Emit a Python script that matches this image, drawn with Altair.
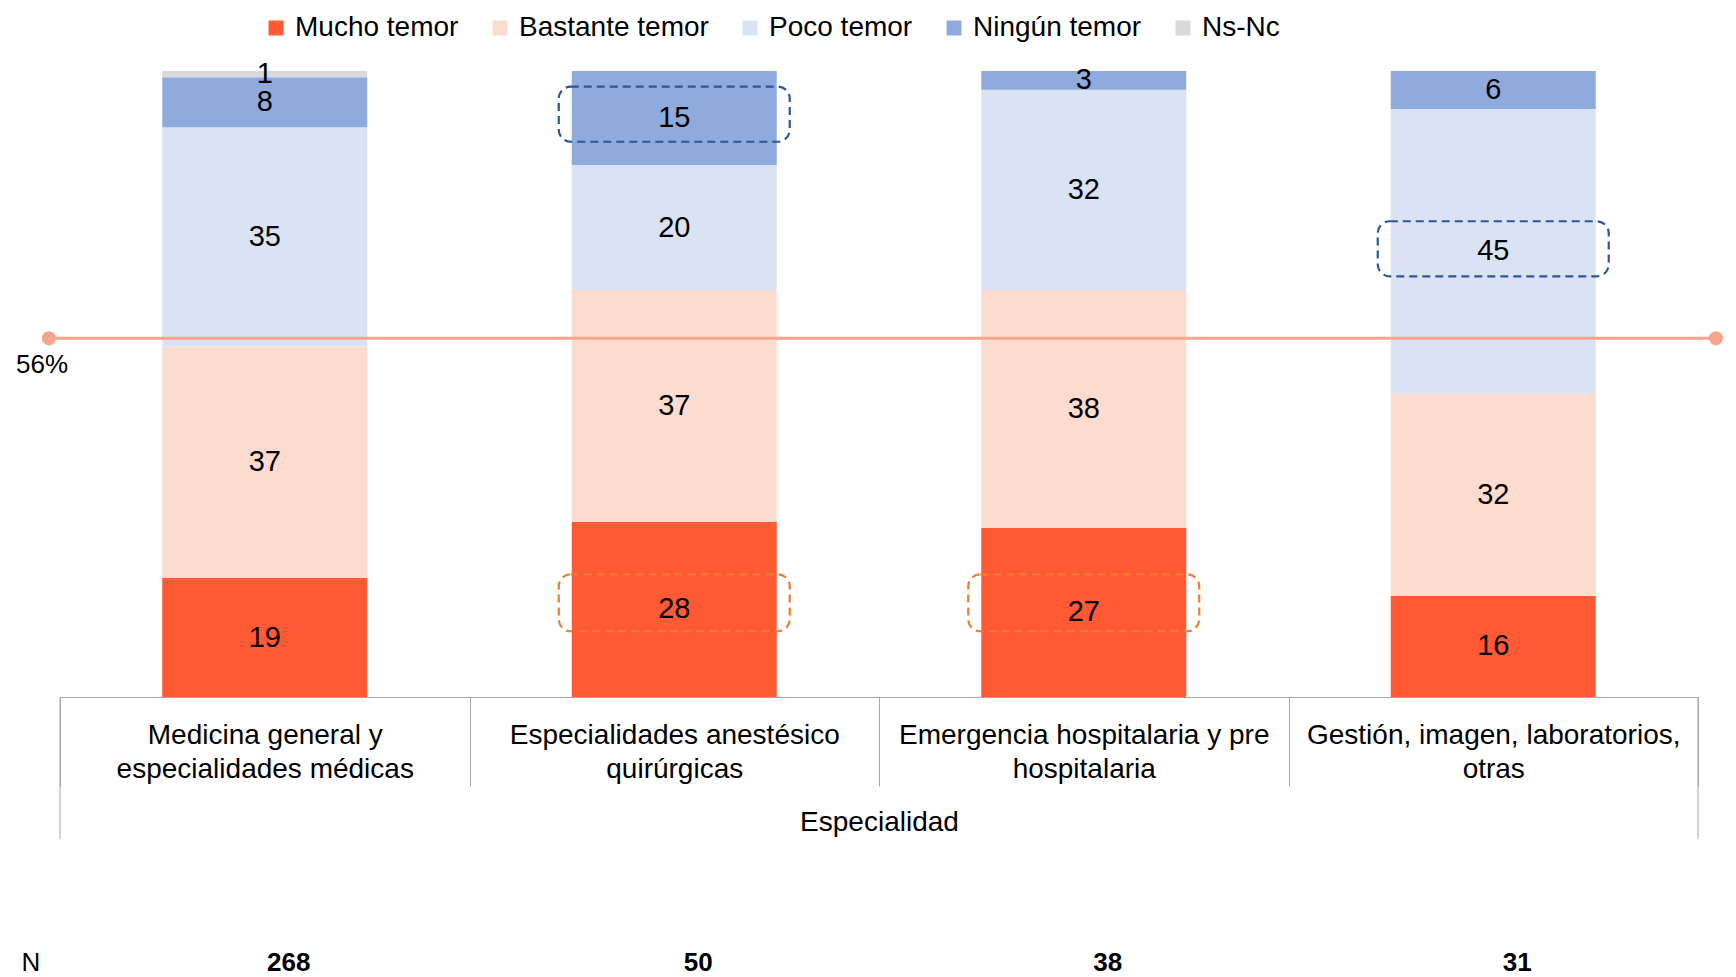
import altair as alt
import pandas as pd

categories = [
    "Medicina general y especialidades médicas",
    "Especialidades anestésico quirúrgicas",
    "Emergencia hospitalaria y pre hospitalaria",
    "Gestión, imagen, laboratorios, otras",
]
label_lines = [
    ["Medicina general y", "especialidades médicas"],
    ["Especialidades anestésico", "quirúrgicas"],
    ["Emergencia hospitalaria y pre", "hospitalaria"],
    ["Gestión, imagen, laboratorios,", "otras"],
]
levels = ["Mucho temor", "Bastante temor", "Poco temor", "Ningún temor", "Ns-Nc"]
level_colors = ["#FF5A33", "#FCDCCF", "#DAE3F3", "#8FAADC", "#D9D9D9"]

mucho = [19, 28, 27, 16]
bastante = [37, 37, 38, 32]
poco = [35, 20, 32, 45]
ningun = [8, 15, 3, 6]
nsnc = [1, 0, 0, 0]
n_values = [268, 50, 38, 31]

ref_value = [0.573]
ref_label = ["56%"]

hl_cat = [categories[1], categories[3], categories[1], categories[2]]
hl_low = [0.887, 0.672, 0.105, 0.105]
hl_high = [0.975, 0.760, 0.196, 0.196]
hl_color = ["#2F5597", "#2F5597", "#ED7D31", "#ED7D31"]

FONT = "Liberation Sans"
W, H = 1638, 626

rows = []
for series, lvl in zip([mucho, bastante, poco, ningun, nsnc], levels):
    for cat, v in zip(categories, series):
        if v > 0:
            rows.append({"Especialidad": cat, "Nivel": lvl, "Valor": v, "orden": levels.index(lvl)})
df = pd.DataFrame(rows)

hl_df = pd.DataFrame({"Especialidad": hl_cat, "lo": hl_low, "hi": hl_high, "col": hl_color})
ref_df = pd.DataFrame({"ref": ref_value, "lab": ref_label})
n_df = pd.DataFrame({"Especialidad": categories, "N": [str(v) for v in n_values]})

label_expr = " : ".join(
    f"datum.value == '{c}' ? ['{l[0]}', '{l[1]}']" for c, l in zip(categories, label_lines)
) + " : datum.label"

xenc = alt.X(
    "Especialidad:N",
    sort=categories,
    scale=alt.Scale(domain=categories, paddingInner=0, paddingOuter=0),
    axis=alt.Axis(
        title="Especialidad",
        titleFontSize=28,
        titleFontWeight="normal",
        titleColor="black",
        titleY=125,
        titleBaseline="middle",
        labelAngle=0,
        labelFontSize=28,
        labelLineHeight=34,
        labelLimit=600,
        labelColor="black",
        labelPadding=-65,
        labelExpr=label_expr,
        tickBand="extent",
        tickSize=89,
        tickColor="#A6A6A6",
        domainColor="#A6A6A6",
        grid=False,
    ),
)
yscale = alt.Scale(domain=[0, 1], nice=False, zero=True)

base = alt.Chart(df).transform_stack(
    stack="Valor",
    groupby=["Especialidad"],
    as_=["y0", "y1"],
    offset="normalize",
    sort=[alt.SortField("orden", order="ascending")],
).transform_calculate(mid="(datum.y0 + datum.y1) / 2")

bars = base.mark_bar(width=205).encode(
    x=xenc,
    y=alt.Y("y0:Q", scale=yscale, axis=None),
    y2="y1:Q",
    color=alt.Color(
        "Nivel:N",
        scale=alt.Scale(domain=levels, range=level_colors),
        legend=alt.Legend(
            orient="none",
            direction="horizontal",
            legendX=202,
            legendY=-57,
            title=None,
            symbolType="square",
            symbolSize=225,
            symbolStrokeWidth=0,
            labelFontSize=28,
            labelColor="black",
            labelLimit=600,
            labelOffset=5,
            columnPadding=27,
        ),
    ),
)

texts = base.mark_text(fontSize=29, color="black", baseline="middle").encode(
    x=xenc,
    y=alt.Y("mid:Q", scale=yscale, axis=None),
    text="Valor:Q",
)

highlights = alt.Chart(hl_df).mark_bar(
    filled=False, width=231, cornerRadius=12, strokeDash=[8, 5], strokeWidth=2.2
).encode(
    x=xenc,
    y=alt.Y("lo:Q", scale=yscale, axis=None),
    y2="hi:Q",
    color=alt.Color("col:N", scale=None),
)

ref_rule = alt.Chart(ref_df).mark_rule(color="#F8A58E", strokeWidth=3).encode(
    x=alt.value(-11), x2=alt.value(W + 18), y=alt.Y("ref:Q", scale=yscale, axis=None)
)
dot_l = alt.Chart(ref_df).mark_circle(color="#F8A58E", size=200, opacity=1).encode(
    x=alt.value(-11), y=alt.Y("ref:Q", scale=yscale, axis=None)
)
dot_r = alt.Chart(ref_df).mark_circle(color="#F8A58E", size=200, opacity=1).encode(
    x=alt.value(W + 18), y=alt.Y("ref:Q", scale=yscale, axis=None)
)
ref_text = alt.Chart(ref_df).mark_text(fontSize=26, color="black", dy=27).encode(
    x=alt.value(-18), y=alt.Y("ref:Q", scale=yscale, axis=None), text="lab:N"
)

outer_l = alt.Chart(ref_df).mark_rule(color="#A6A6A6", strokeWidth=1).encode(
    x=alt.value(0), y=alt.value(H), y2=alt.value(H + 142)
)
outer_r = alt.Chart(ref_df).mark_rule(color="#A6A6A6", strokeWidth=1).encode(
    x=alt.value(W), y=alt.value(H), y2=alt.value(H + 142)
)

n_label = alt.Chart(ref_df).mark_text(fontSize=26, color="black").encode(
    x=alt.value(-29), y=alt.value(892), text=alt.value("N")
)
n_vals = alt.Chart(n_df).mark_text(fontSize=26, fontWeight="bold", color="black", dx=24).encode(
    x=xenc, y=alt.value(892), text="N:N"
)

chart = alt.layer(
    bars, texts, highlights, ref_rule, dot_l, dot_r, ref_text, outer_l, outer_r, n_label, n_vals
).properties(
    width=W,
    height=H,
    padding={"left": 52, "top": 63, "right": 30, "bottom": 280},
    autosize=alt.AutoSizeParams(type="none"),
).configure(font=FONT).configure_view(stroke=None)

chart.save("out.html", embed_options={"renderer": "svg", "actions": False})
